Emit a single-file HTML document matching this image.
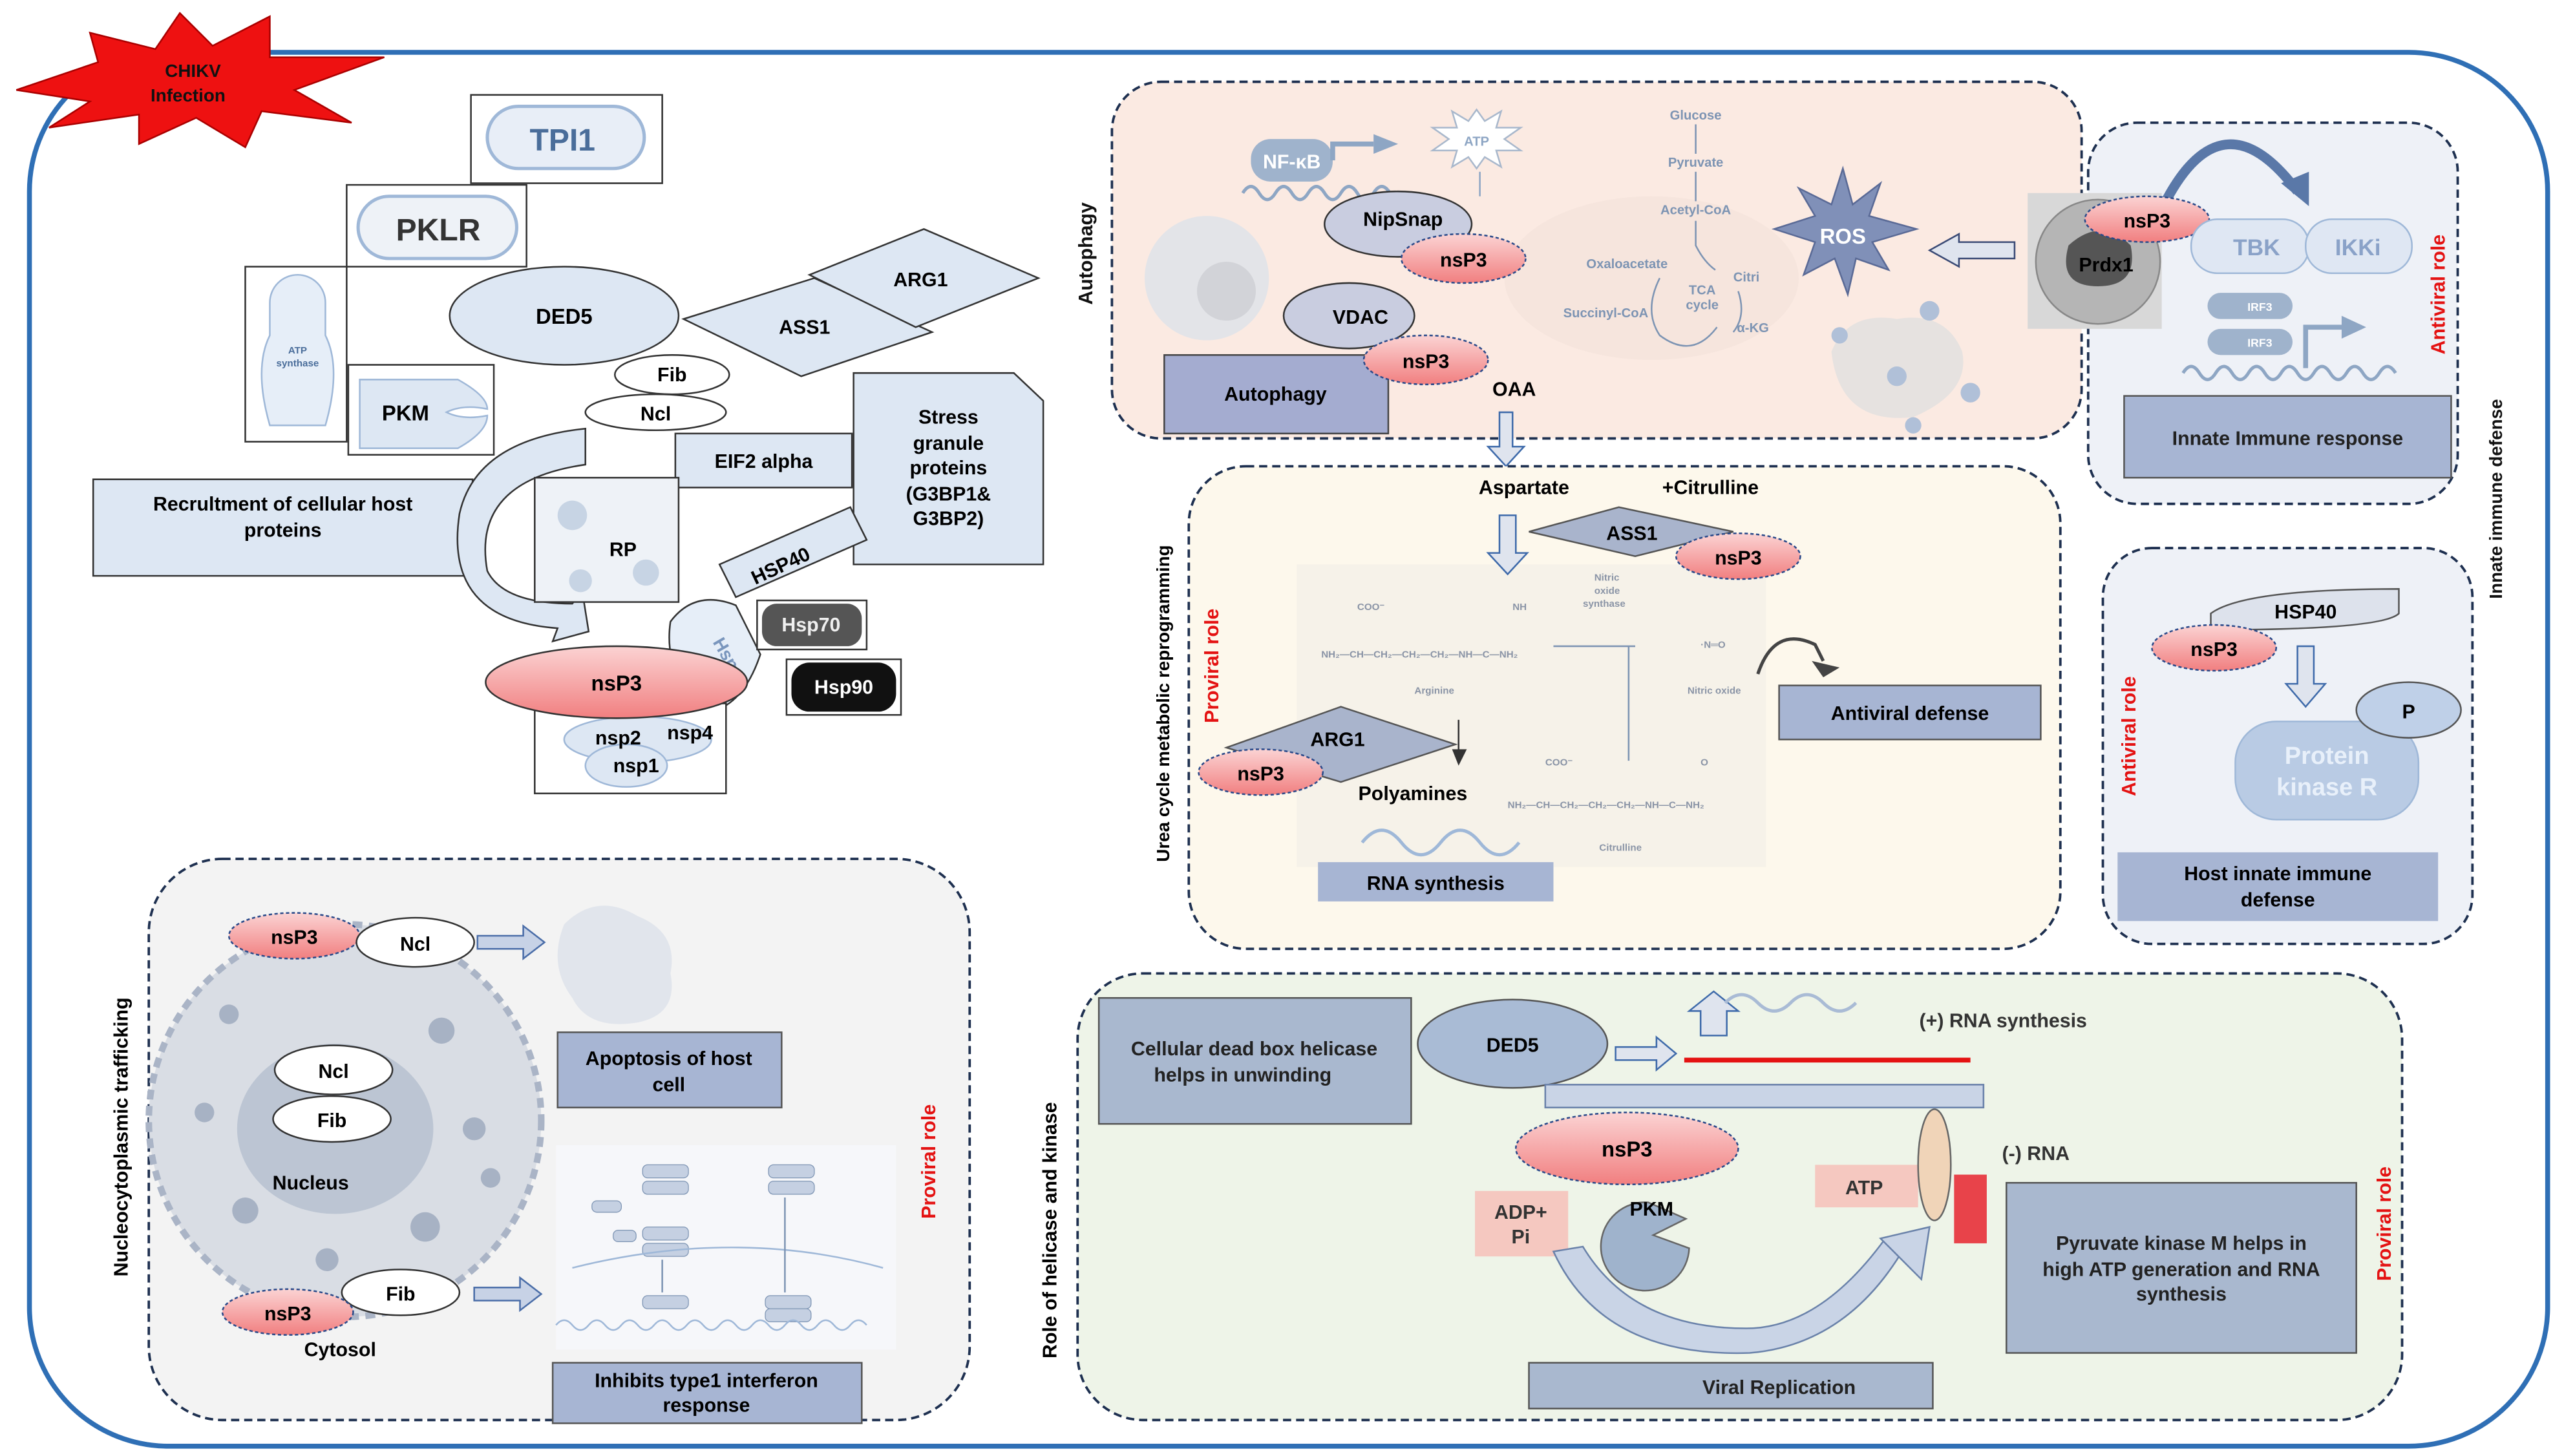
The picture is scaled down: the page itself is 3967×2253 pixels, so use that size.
<!DOCTYPE html>
<html><head><meta charset="utf-8"><style>
html,body{margin:0;padding:0;background:#fff;}
svg{display:block;}
text{font-family:"Liberation Sans",Arial,sans-serif;font-weight:bold;}
</style></head><body>
<svg width="3967" height="2253" viewBox="0 0 1568 890" preserveAspectRatio="none" xmlns="http://www.w3.org/2000/svg">
<defs>
<linearGradient id="pk" x1="0" y1="0" x2="0" y2="1"><stop offset="0" stop-color="#fbd3d3"/><stop offset="1" stop-color="#f17f80"/></linearGradient>
<linearGradient id="lb" x1="0" y1="0" x2="0" y2="1"><stop offset="0" stop-color="#e6edf7"/><stop offset="1" stop-color="#c5d4e8"/></linearGradient>
</defs>
<rect width="1568" height="890" fill="#fff"/>
<!-- outer frame -->
<rect x="18" y="32" width="1540" height="852" rx="85" fill="none" stroke="#2f6fb5" stroke-width="3"/>
<!-- starburst -->
<polygon points="10,55 60,38 55,20 95,30 110,8 130,28 165,10 165,35 235,35 180,55 215,75 160,68 150,90 120,72 85,88 85,70 30,78 55,62" fill="#ee1111" stroke="#a00" stroke-width="1"/>
<text x="118" y="47" font-size="11" text-anchor="middle" fill="#111">CHIKV</text>
<text x="115" y="62" font-size="11" text-anchor="middle" fill="#111">Infection</text>

<!-- top-left cluster -->
<rect x="288" y="58" width="117" height="54" fill="#fff" stroke="#333"/>
<rect x="298" y="65" width="96" height="38" rx="19" fill="#e8eef7" stroke="#9fb8d8" stroke-width="2"/>
<text x="344" y="92" font-size="19" font-weight="normal" text-anchor="middle" fill="#4a6d9a">TPI1</text>
<rect x="212" y="113" width="110" height="50" fill="#fff" stroke="#333"/>
<rect x="219" y="120" width="97" height="38" rx="19" fill="#eef2f7" stroke="#9fb8d8" stroke-width="2"/>
<text x="268" y="147" font-size="19" font-weight="normal" text-anchor="middle" fill="#333">PKLR</text>
<rect x="150" y="163" width="62" height="107" fill="#fff" stroke="#333"/>
<path d="M165,185 a17,17 0 0 1 34,0 v20 q10,20 0,55 h-34 q-10,-35 0,-55z" fill="#e6eef8" stroke="#9fb8d8"/>
<text x="182" y="216" font-size="6" text-anchor="middle" fill="#4a6d9a">ATP</text>
<text x="182" y="224" font-size="6" text-anchor="middle" fill="#4a6d9a">synthase</text>
<ellipse cx="345" cy="193" rx="70" ry="30" fill="#dde7f3" stroke="#333"/>
<text x="345" y="198" font-size="13" text-anchor="middle">DED5</text>
<polygon points="418,195 498,170 570,203 490,230" fill="#dde7f3" stroke="#333"/>
<text x="492" y="204" font-size="12" text-anchor="middle">ASS1</text>
<polygon points="495,168 565,140 635,170 560,200" fill="#dde7f3" stroke="#333"/>
<text x="563" y="175" font-size="12" text-anchor="middle">ARG1</text>
<ellipse cx="411" cy="229" rx="35" ry="12" fill="#fff" stroke="#333"/>
<text x="411" y="233" font-size="12" text-anchor="middle">Fib</text>
<ellipse cx="401" cy="252" rx="43" ry="11" fill="#fff" stroke="#333"/>
<text x="401" y="257" font-size="12" text-anchor="middle">Ncl</text>
<rect x="213" y="223" width="89" height="55" fill="#fff" stroke="#333"/>
<path d="M220,232 h60 q18,10 18,18 q-15,-3 -25,2 q10,5 25,2 q0,10 -18,20 h-60z" fill="#dde7f3" stroke="#9fb8d8"/>
<text x="248" y="257" font-size="13" text-anchor="middle">PKM</text>
<rect x="413" y="265" width="108" height="33" fill="#dde7f3" stroke="#333"/>
<text x="467" y="286" font-size="12" text-anchor="middle">EIF2 alpha</text>
<polygon points="522,228 620,228 638,245 638,345 522,345" fill="#dde7f3" stroke="#333"/>
<text x="580" y="259" font-size="12" text-anchor="middle">Stress</text>
<text x="580" y="275" font-size="12" text-anchor="middle">granule</text>
<text x="580" y="290" font-size="12" text-anchor="middle">proteins</text>
<text x="580" y="306" font-size="12" text-anchor="middle">(G3BP1&amp;</text>
<text x="580" y="321" font-size="12" text-anchor="middle">G3BP2)</text>
<rect x="57" y="293" width="232" height="59" fill="#dde7f3" stroke="#333"/>
<text x="173" y="312" font-size="12" text-anchor="middle">Recrultment of cellular host</text>
<text x="173" y="328" font-size="12" text-anchor="middle">proteins</text>
<path d="M358,262 v22 q-70,10 -60,65 q10,20 52,20 l6,-8 l4,25 l-22,6 l3,-8 q-70,-5 -60,-70 q10,-45 77,-52z" fill="#dde7f3" stroke="#333"/>
<rect x="327" y="292" width="88" height="76" fill="#eef2f7" stroke="#333"/>
<circle cx="350" cy="315" r="9" fill="#c7d4e4"/><circle cx="395" cy="350" r="8" fill="#c7d4e4"/><circle cx="355" cy="355" r="7" fill="#c7d4e4"/>
<text x="381" y="340" font-size="12" text-anchor="middle">RP</text>
<polygon points="440,345 520,310 530,330 450,365" fill="#dde7f3" stroke="#333"/>
<text x="477" y="350" font-size="12" text-anchor="middle" transform="rotate(-25 477 345)">HSP40</text>
<path d="M410,380 q15,-20 40,-10 l15,30 q-10,30 -30,35 q-30,-20 -25,-55z" fill="#e6eef8" stroke="#333"/>
<text x="440" y="395" font-size="11" font-weight="normal" fill="#7a96bd" transform="rotate(60 440 390)">Hsp</text>
<rect x="463" y="367" width="67" height="30" fill="#fff" stroke="#333"/>
<rect x="466" y="369" width="61" height="26" rx="9" fill="#555"/>
<text x="496" y="386" font-size="12" text-anchor="middle" fill="#eee">Hsp70</text>
<rect x="481" y="403" width="70" height="34" fill="#fff" stroke="#333"/>
<rect x="484" y="405" width="64" height="30" rx="11" fill="#111"/>
<text x="516" y="424" font-size="12" text-anchor="middle" fill="#fff">Hsp90</text>
<rect x="327" y="430" width="117" height="55" fill="#fff" stroke="#333"/>
<ellipse cx="390" cy="452" rx="45" ry="14" fill="#dde7f3" stroke="#9fb8d8"/>
<ellipse cx="383" cy="468" rx="25" ry="13" fill="#dde7f3" stroke="#9fb8d8"/>
<ellipse cx="377" cy="417" rx="80" ry="22" fill="url(#pk)" stroke="#333"/>
<text x="377" y="422" font-size="13" text-anchor="middle">nsP3</text>
<text x="378" y="455" font-size="12" text-anchor="middle">nsp2</text>
<text x="422" y="452" font-size="12" text-anchor="middle">nsp4</text>
<text x="389" y="472" font-size="12" text-anchor="middle">nsp1</text>

<!-- Autophagy panel -->
<rect x="680" y="50" width="593" height="218" rx="30" fill="#fbeae2" stroke="#1e3050" stroke-width="1.5" stroke-dasharray="5,3"/>
<text x="668" y="155" font-size="12" fill="#111" text-anchor="middle" transform="rotate(-90 668 155)">Autophagy</text>
<circle cx="738" cy="170" r="38" fill="#e3e4e8"/><circle cx="750" cy="178" r="18" fill="#d2d3d8"/>
<rect x="765" y="85" width="50" height="26" rx="12" fill="#9fb3cc"/>
<text x="790" y="103" font-size="12" font-weight="normal" text-anchor="middle" fill="#fff">NF-κB</text>
<path d="M815,98 v-10 h25" stroke="#8ea6c4" stroke-width="3" fill="none"/><polygon points="840,82 855,88 840,94" fill="#8ea6c4"/>
<path d="M760,118 q5,-8 10,0 t10,0 t10,0 t10,0 t10,0 t10,0 t10,0 t10,0 t10,0" stroke="#8ea6c4" fill="none" stroke-width="2"/>
<polygon points="903,67 908,74 918,68 915,78 930,78 920,85 930,92 915,92 918,102 908,96 903,103 898,96 888,102 891,92 876,92 886,85 876,78 891,78 888,68 898,74" fill="#fff" stroke="#a9b8cc"/>
<text x="903" y="89" font-size="8" text-anchor="middle" fill="#8ea6c4">ATP</text>
<line x1="905" y1="120" x2="905" y2="105" stroke="#8ea6c4"/>
<ellipse cx="1010" cy="170" rx="90" ry="50" fill="#f5e3dc" opacity="0.8"/>
<text x="1037" y="73" font-size="8" font-weight="normal" text-anchor="middle" fill="#7d94b3">Glucose</text>
<text x="1037" y="102" font-size="8" font-weight="normal" text-anchor="middle" fill="#7d94b3">Pyruvate</text>
<text x="1037" y="131" font-size="8" font-weight="normal" text-anchor="middle" fill="#7d94b3">Acetyl-CoA</text>
<line x1="1037" y1="76" x2="1037" y2="94" stroke="#7d94b3"/><line x1="1037" y1="105" x2="1037" y2="123" stroke="#7d94b3"/>
<path d="M1037,135 v15 q5,10 12,15" stroke="#7d94b3" fill="none"/>
<text x="995" y="164" font-size="8" font-weight="normal" text-anchor="middle" fill="#7d94b3">Oxaloacetate</text>
<text x="1068" y="172" font-size="8" font-weight="normal" text-anchor="middle" fill="#7d94b3">Citri</text>
<text x="1041" y="180" font-size="8" text-anchor="middle" fill="#7d94b3">TCA</text>
<text x="1041" y="189" font-size="8" text-anchor="middle" fill="#7d94b3">cycle</text>
<text x="982" y="194" font-size="8" font-weight="normal" text-anchor="middle" fill="#7d94b3">Succinyl-CoA</text>
<text x="1072" y="203" font-size="8" font-weight="normal" text-anchor="middle" fill="#7d94b3">α-KG</text>
<path d="M1015,170 q-10,20 0,35 q20,15 35,-5 M1063,178 q5,15 -3,25" stroke="#7d94b3" fill="none"/>
<polygon points="1127,103 1133,125 1150,112 1143,132 1172,140 1145,148 1155,165 1135,158 1130,180 1122,158 1103,168 1110,148 1085,140 1110,132 1100,115 1120,125" fill="#8090b8" stroke="#5a6a96"/>
<text x="1127" y="149" font-size="13" text-anchor="middle" fill="#fff">ROS</text>
<polygon points="1180,153 1198,143 1198,148 1232,148 1232,158 1198,158 1198,163" fill="#dfe4ee" stroke="#3a4a75"/>
<path d="M1120,215 q10,-25 40,-20 q30,-5 40,20 q5,25 -30,40 q-45,5 -50,-40z" fill="#e6e2e0"/>
<g fill="#b0c0d8"><circle cx="1180" cy="190" r="6"/><circle cx="1160" cy="230" r="6"/><circle cx="1205" cy="240" r="6"/><circle cx="1125" cy="205" r="5"/><circle cx="1170" cy="260" r="5"/></g>
<ellipse cx="855" cy="137" rx="45" ry="20" fill="#c9cde0" stroke="#333"/>
<text x="858" y="138" font-size="12" font-weight="normal" text-anchor="middle">NipSnap</text>
<ellipse cx="895" cy="158" rx="38" ry="15" fill="url(#pk)" stroke="#2a4a8a" stroke-dasharray="2,1.5"/>
<text x="895" y="163" font-size="12" text-anchor="middle">nsP3</text>
<ellipse cx="825" cy="193" rx="40" ry="20" fill="#c9cde0" stroke="#333"/>
<text x="832" y="198" font-size="12" font-weight="normal" text-anchor="middle">VDAC</text>
<rect x="712" y="217" width="137" height="48" fill="#a4acd0" stroke="#444"/>
<text x="780" y="245" font-size="12" font-weight="normal" text-anchor="middle">Autophagy</text>
<ellipse cx="872" cy="220" rx="38" ry="15" fill="url(#pk)" stroke="#2a4a8a" stroke-dasharray="2,1.5"/>
<text x="872" y="225" font-size="12" text-anchor="middle">nsP3</text>
<text x="926" y="242" font-size="12" font-weight="normal" text-anchor="middle">OAA</text>
<polygon points="917,252 925,252 925,273 932,273 921,285 910,273 917,273" fill="#dfe4ee" stroke="#3e6aaa"/>

<!-- Innate immune response panel -->
<rect x="1277" y="75" width="226" height="233" rx="30" fill="#eef1f7" stroke="#1e3050" stroke-width="1.5" stroke-dasharray="5,3"/>
<rect x="1240" y="118" width="82" height="83" fill="#d8d8d8"/>
<circle cx="1283" cy="160" r="38" fill="#b5b5b5" stroke="#888"/>
<path d="M1265,150 q20,-18 38,0 q5,25 -20,25 q-25,0 -18,-25z" fill="#555"/>
<text x="1288" y="166" font-size="12" text-anchor="middle">Prdx1</text>
<path d="M1325,122 q35,-65 80,-5" stroke="#5a78a8" stroke-width="6" fill="none"/><polygon points="1395,112 1412,126 1412,105" fill="#5a78a8"/>
<ellipse cx="1313" cy="134" rx="38" ry="14" fill="url(#pk)" stroke="#2a4a8a" stroke-dasharray="2,1.5"/>
<text x="1313" y="139" font-size="12" text-anchor="middle">nsP3</text>
<rect x="1340" y="134" width="72" height="33" rx="16" fill="#dfe7f3" stroke="#9fb8d8"/>
<text x="1380" y="156" font-size="14" font-weight="normal" text-anchor="middle" fill="#8aa2c8">TBK</text>
<rect x="1410" y="134" width="65" height="33" rx="16" fill="#dfe7f3" stroke="#9fb8d8"/>
<text x="1442" y="156" font-size="14" font-weight="normal" text-anchor="middle" fill="#8aa2c8">IKKi</text>
<rect x="1350" y="179" width="52" height="16" rx="8" fill="#9fb3cc"/><text x="1382" y="190" font-size="7" fill="#fff" text-anchor="middle">IRF3</text>
<rect x="1350" y="201" width="52" height="16" rx="8" fill="#9fb3cc"/><text x="1382" y="212" font-size="7" fill="#fff" text-anchor="middle">IRF3</text>
<path d="M1410,225 v-25 h25" stroke="#8ea6c4" stroke-width="3" fill="none"/><polygon points="1432,193 1447,200 1432,207" fill="#8ea6c4"/>
<path d="M1335,228 q5,-8 10,0 t10,0 t10,0 t10,0 t10,0 t10,0 t10,0 t10,0 t10,0 t10,0 t10,0 t10,0 t10,0" stroke="#8ea6c4" fill="none" stroke-width="2"/>
<rect x="1299" y="242" width="200" height="50" fill="#a7b5d3" stroke="#555"/>
<text x="1399" y="272" font-size="12" text-anchor="middle" fill="#222">Innate Immune response</text>
<text x="1495" y="180" font-size="12" fill="#e41212" text-anchor="middle" transform="rotate(-90 1495 180)">Antiviral role</text>
<text x="1530" y="305" font-size="11" fill="#111" text-anchor="middle" transform="rotate(-90 1530 305)">Innate immune defense</text>

<!-- Host innate immune defense -->
<rect x="1286" y="335" width="226" height="242" rx="30" fill="#eef1f7" stroke="#1e3050" stroke-width="1.5" stroke-dasharray="5,3"/>
<path d="M1352,375 q20,-15 115,-15 v15 q-10,10 -115,10z" fill="#dde2ec" stroke="#555"/>
<text x="1410" y="378" font-size="12" text-anchor="middle">HSP40</text>
<ellipse cx="1354" cy="396" rx="38" ry="14" fill="url(#pk)" stroke="#2a4a8a" stroke-dasharray="2,1.5"/>
<text x="1354" y="401" font-size="12" text-anchor="middle">nsP3</text>
<polygon points="1405,395 1415,395 1415,418 1422,418 1410,432 1398,418 1405,418" fill="#dfe4ee" stroke="#3e6aaa"/>
<rect x="1367" y="441" width="112" height="60" rx="25" fill="#b9cbe4" stroke="#9fb8d8"/>
<text x="1423" y="467" font-size="15" text-anchor="middle" fill="#e8f0fa">Protein</text>
<text x="1423" y="486" font-size="15" text-anchor="middle" fill="#e8f0fa">kinase R</text>
<ellipse cx="1473" cy="434" rx="32" ry="17" fill="#bfd0e8" stroke="#555"/>
<text x="1473" y="439" font-size="12" text-anchor="middle">P</text>
<rect x="1295" y="521" width="196" height="42" fill="#a7b5d3"/>
<text x="1393" y="538" font-size="12" text-anchor="middle">Host innate immune</text>
<text x="1393" y="554" font-size="12" text-anchor="middle">defense</text>
<text x="1306" y="450" font-size="12" fill="#e41212" text-anchor="middle" transform="rotate(-90 1306 450)">Antiviral role</text>

<!-- Urea cycle panel -->
<rect x="727" y="285" width="533" height="295" rx="35" fill="#fdf8ec" stroke="#1e3050" stroke-width="1.5" stroke-dasharray="5,3"/>
<text x="715" y="430" font-size="11" text-anchor="middle" transform="rotate(-90 715 430)">Urea cycle metabolic reprogramming</text>
<text x="745" y="407" font-size="12" fill="#e41212" text-anchor="middle" transform="rotate(-90 745 407)">Proviral role</text>
<rect x="793" y="345" width="287" height="185" fill="#f1efe8" opacity="0.6"/>
<text x="932" y="302" font-size="12" font-weight="normal" text-anchor="middle">Aspartate</text>
<text x="1046" y="302" font-size="12" font-weight="normal" text-anchor="middle">+Citrulline</text>
<polygon points="917,315 927,315 927,338 934,338 922,351 910,338 917,338" fill="#dfe4ee" stroke="#3e6aaa"/>
<polygon points="935,325 990,310 1060,325 1000,340" fill="#a9b4cc" stroke="#555"/>
<text x="998" y="330" font-size="12" text-anchor="middle">ASS1</text>
<ellipse cx="1063" cy="340" rx="38" ry="14" fill="url(#pk)" stroke="#2a4a8a" stroke-dasharray="2,1.5"/>
<text x="1063" y="345" font-size="12" text-anchor="middle">nsP3</text>
<g font-size="6" font-weight="normal" fill="#8a94a6">
<text x="830" y="373">COO⁻</text><text x="925" y="373">NH</text>
<text x="808" y="402">NH₂—CH—CH₂—CH₂—CH₂—NH—C—NH₂</text>
<text x="865" y="424">Arginine</text>
<text x="975" y="355">Nitric</text><text x="975" y="363">oxide</text><text x="968" y="371">synthase</text>
<text x="1040" y="396">·N═O</text><text x="1032" y="424">Nitric oxide</text>
<text x="945" y="468">COO⁻</text><text x="1040" y="468">O</text>
<text x="922" y="494">NH₂—CH—CH₂—CH₂—CH₂—NH—C—NH₂</text>
<text x="978" y="520">Citrulline</text>
</g>
<path d="M950,395 h50 M996,395 v70" stroke="#7d94b3" fill="none"/>
<path d="M1075,412 q10,-30 35,-18 l5,10" stroke="#444" stroke-width="2" fill="none"/><polygon points="1108,404 1125,408 1115,414" fill="#444"/>
<rect x="1088" y="419" width="160" height="33" fill="#a7b5d3" stroke="#555"/>
<text x="1168" y="440" font-size="12" text-anchor="middle">Antiviral defense</text>
<polygon points="750,457 820,432 890,455 820,478" fill="#a9b4cc" stroke="#555"/>
<text x="818" y="456" font-size="12" text-anchor="middle">ARG1</text>
<polygon points="888,458 897,458 892,468" fill="#333"/><line x1="892" y1="440" x2="892" y2="460" stroke="#333"/>
<ellipse cx="771" cy="472" rx="38" ry="14" fill="url(#pk)" stroke="#2a4a8a" stroke-dasharray="2,1.5"/>
<text x="771" y="477" font-size="12" text-anchor="middle">nsP3</text>
<text x="864" y="489" font-size="12" text-anchor="middle">Polyamines</text>
<path d="M833,515 q12,-15 24,0 t24,0 t24,0 t24,0" stroke="#9fb8d8" stroke-width="2" fill="none"/>
<rect x="806" y="527" width="144" height="24" fill="#a7b5d3"/>
<text x="878" y="544" font-size="12" text-anchor="middle">RNA synthesis</text>

<!-- Nucleocytoplasmic panel -->
<rect x="91" y="525" width="502" height="343" rx="45" fill="#f3f3f3" stroke="#1e3050" stroke-width="1.5" stroke-dasharray="5,3"/>
<text x="78" y="695" font-size="12" text-anchor="middle" transform="rotate(-90 78 695)">Nucleocytoplasmic trafficking</text>
<text x="572" y="710" font-size="12" fill="#e41212" text-anchor="middle" transform="rotate(-90 572 710)">Proviral role</text>
<circle cx="211" cy="685" r="120" fill="#d9dde4" stroke="#aab4c6" stroke-width="4" stroke-dasharray="6,4"/>
<ellipse cx="205" cy="690" rx="60" ry="52" fill="#bcc5d3"/>
<g fill="#a7b2c4"><circle cx="140" cy="620" r="6"/><circle cx="270" cy="630" r="8"/><circle cx="290" cy="690" r="7"/><circle cx="150" cy="740" r="8"/><circle cx="260" cy="750" r="9"/><circle cx="125" cy="680" r="6"/><circle cx="300" cy="720" r="6"/><circle cx="200" cy="770" r="7"/></g>
<ellipse cx="180" cy="572" rx="40" ry="14" fill="url(#pk)" stroke="#2a4a8a" stroke-dasharray="2,1.5"/>
<text x="180" y="577" font-size="12" text-anchor="middle">nsP3</text>
<ellipse cx="254" cy="576" rx="36" ry="15" fill="#fff" stroke="#333"/>
<text x="254" y="581" font-size="12" font-weight="normal" text-anchor="middle">Ncl</text>
<polygon points="292,572 320,572 320,566 333,576 320,586 320,580 292,580" fill="#c7d2e6" stroke="#4a6da8"/>
<path d="M345,565 q20,-20 45,-5 q25,10 20,35 q5,25 -20,30 q-30,5 -40,-15 q-15,-20 -5,-45z" fill="#e1e5ec"/>
<rect x="341" y="631" width="137" height="46" fill="#a7b5d3" stroke="#555"/>
<text x="409" y="651" font-size="12" text-anchor="middle">Apoptosis of host</text>
<text x="409" y="667" font-size="12" text-anchor="middle">cell</text>
<ellipse cx="204" cy="654" rx="36" ry="15" fill="#fff" stroke="#333"/>
<text x="204" y="659" font-size="12" font-weight="normal" text-anchor="middle">Ncl</text>
<ellipse cx="203" cy="684" rx="36" ry="14" fill="#fff" stroke="#333"/>
<text x="203" y="689" font-size="12" font-weight="normal" text-anchor="middle">Fib</text>
<text x="190" y="727" font-size="12" font-weight="normal" text-anchor="middle">Nucleus</text>
<ellipse cx="245" cy="790" rx="36" ry="14" fill="#fff" stroke="#333"/>
<text x="245" y="795" font-size="12" font-weight="normal" text-anchor="middle">Fib</text>
<ellipse cx="176" cy="802" rx="40" ry="14" fill="url(#pk)" stroke="#2a4a8a" stroke-dasharray="2,1.5"/>
<text x="176" y="807" font-size="12" text-anchor="middle">nsP3</text>
<text x="208" y="829" font-size="12" font-weight="normal" text-anchor="middle">Cytosol</text>
<polygon points="290,787 318,787 318,781 331,791 318,801 318,795 290,795" fill="#c7d2e6" stroke="#4a6da8"/>
<rect x="340" y="700" width="208" height="125" fill="#f6f7fa"/>
<g fill="#c5d0e2" stroke="#7d94b3" stroke-width="0.5"><rect x="393" y="712" width="28" height="8" rx="3"/><rect x="393" y="722" width="28" height="8" rx="3"/><rect x="470" y="712" width="28" height="8" rx="3"/><rect x="470" y="722" width="28" height="8" rx="3"/><rect x="393" y="750" width="28" height="8" rx="3"/><rect x="393" y="760" width="28" height="8" rx="3"/><rect x="393" y="792" width="28" height="8" rx="3"/><rect x="468" y="792" width="28" height="8" rx="3"/><rect x="468" y="800" width="28" height="8" rx="3"/><rect x="362" y="734" width="18" height="7" rx="3"/><rect x="375" y="752" width="14" height="7" rx="3"/></g>
<path d="M350,775 q100,-25 190,0 M340,810 q5,-6 10,0 t10,0 t10,0 t10,0 t10,0 t10,0 t10,0 t10,0 t10,0 t10,0 t10,0 t10,0 t10,0 t10,0 t10,0 t10,0 t10,0 t10,0 t10,0" stroke="#9fb8d8" fill="none"/>
<line x1="480" y1="732" x2="480" y2="790" stroke="#7d94b3"/><line x1="405" y1="770" x2="405" y2="790" stroke="#7d94b3"/>
<rect x="338" y="833" width="189" height="37" fill="#a7b5d3" stroke="#555"/>
<text x="432" y="848" font-size="12" text-anchor="middle">Inhibits type1 interferon</text>
<text x="432" y="863" font-size="12" text-anchor="middle">response</text>

<!-- Helicase panel -->
<rect x="659" y="595" width="810" height="273" rx="40" fill="#eef4e8" stroke="#1e3050" stroke-width="1.5" stroke-dasharray="5,3"/>
<text x="646" y="752" font-size="12" text-anchor="middle" transform="rotate(-90 646 752)">Role of helicase and kinase</text>
<text x="1462" y="748" font-size="12" fill="#e41212" text-anchor="middle" transform="rotate(-90 1462 748)">Proviral role</text>
<rect x="672" y="610" width="191" height="77" fill="#a9b8cf" stroke="#555"/>
<text x="767" y="645" font-size="12" font-weight="normal" text-anchor="middle" fill="#222">Cellular dead box helicase</text>
<text x="760" y="661" font-size="12" font-weight="normal" text-anchor="middle" fill="#222">helps  in unwinding</text>
<ellipse cx="925" cy="638" rx="58" ry="27" fill="#a9bbd5" stroke="#555"/>
<text x="925" y="643" font-size="12" font-weight="normal" text-anchor="middle">DED5</text>
<polygon points="988,640 1013,640 1013,634 1025,644 1013,654 1013,648 988,648" fill="#dfe4ee" stroke="#3e6aaa"/>
<polygon points="1040,633 1040,618 1033,618 1048,606 1063,618 1056,618 1056,633" fill="#dfe4ee" stroke="#3e6aaa"/>
<path d="M1055,613 q10,-10 20,0 t20,0 t20,0 t20,0" stroke="#a9bbd5" stroke-width="2" fill="none"/>
<text x="1225" y="628" font-size="12" text-anchor="middle" fill="#333">(+) RNA synthesis</text>
<line x1="1030" y1="648" x2="1205" y2="648" stroke="#e41212" stroke-width="3"/>
<rect x="945" y="663" width="268" height="14" fill="#c9d4e6" stroke="#6a82aa"/>
<ellipse cx="995" cy="702" rx="68" ry="22" fill="url(#pk)" stroke="#2a4a8a" stroke-dasharray="2,1.5"/>
<text x="995" y="707" font-size="13" text-anchor="middle">nsP3</text>
<rect x="1110" y="712" width="63" height="26" fill="#f5c8c0"/>
<text x="1140" y="730" font-size="12" text-anchor="middle" fill="#333">ATP</text>
<ellipse cx="1183" cy="712" rx="10" ry="34" fill="#f0d4b8" stroke="#666"/>
<rect x="1195" y="718" width="20" height="42" fill="#e8434a"/>
<text x="1245" y="709" font-size="12" font-weight="normal" text-anchor="middle" fill="#333">(-) RNA</text>
<rect x="902" y="728" width="57" height="40" fill="#f5c8c0"/>
<text x="930" y="745" font-size="12" text-anchor="middle" fill="#333">ADP+</text>
<text x="930" y="760" font-size="12" text-anchor="middle" fill="#333">Pi</text>
<path d="M1008,735 a27,27 0 1 0 25,28 l-22,-8 l20,-10 z" fill="#9fb3cc" stroke="#666"/>
<text x="1010" y="743" font-size="12" text-anchor="middle">PKM</text>
<path d="M950,765 q30,65 120,62 q60,-5 95,-65 l-12,-5 q-40,55 -85,55 q-70,0 -100,-50z" fill="#c9d4e6" stroke="#6a82aa"/>
<polygon points="1150,757 1180,750 1175,782" fill="#c9d4e6" stroke="#6a82aa"/>
<rect x="1227" y="723" width="214" height="104" fill="#a9b8cf" stroke="#555"/>
<text x="1334" y="764" font-size="12" font-weight="normal" text-anchor="middle" fill="#222">Pyruvate kinase M  helps in</text>
<text x="1334" y="780" font-size="12" font-weight="normal" text-anchor="middle" fill="#222">high ATP generation and RNA</text>
<text x="1334" y="795" font-size="12" font-weight="normal" text-anchor="middle" fill="#222">synthesis</text>
<rect x="935" y="833" width="247" height="28" fill="#a9b8cf" stroke="#555"/>
<text x="1088" y="852" font-size="12" font-weight="normal" text-anchor="middle" fill="#222">Viral Replication</text>
</svg>
</body></html>
